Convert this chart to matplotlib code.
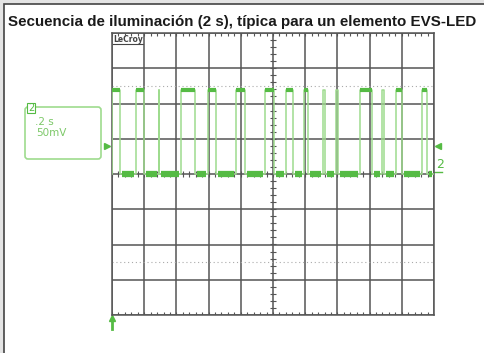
import numpy as np
import matplotlib
matplotlib.use("Agg")
import matplotlib.pyplot as plt
from matplotlib.patches import Rectangle, FancyBboxPatch

# pulse train (seconds, volts)
pulse_start = [0.000, 0.149, 0.289, 0.429, 0.596, 0.770, 0.950, 1.081,
               1.193, 1.311, 1.391, 1.540, 1.677, 1.764, 1.925]
pulse_end = [0.050, 0.199, 0.295, 0.516, 0.646, 0.826, 1.006, 1.124,
             1.217, 1.323, 1.404, 1.615, 1.689, 1.801, 1.957]
v_high = 0.119
v_low = 0.0
t_total = 2.0          # 10 div x 0.2 s
v_div = 0.05           # 50 mV/div

title = "Secuencia de iluminación (2 s), típica para un elemento EVS-LED"

green = "#55bb44"
green_lt = "#9edb8e"
gridc = "#555555"

W, H = 484, 353
fig = plt.figure(figsize=(W / 100, H / 100), dpi=100, facecolor="#e4e4e4")

# overlay in pixel coordinates
ax0 = fig.add_axes([0, 0, 1, 1])
ax0.set_xlim(0, W)
ax0.set_ylim(H, 0)
ax0.axis("off")
ax0.add_patch(Rectangle((4, 4), W, H, facecolor="white", edgecolor="#444444", lw=1.2))
ax0.text(8, 22, title, fontsize=10.9, fontweight="bold", family="Liberation Sans",
         va="center", ha="left", color="#1a1a1a")

# channel info box
ax0.add_patch(FancyBboxPatch((25, 107), 76, 52, boxstyle="round,pad=0,rounding_size=3",
                             facecolor="none", edgecolor=green_lt, lw=1.2))
ax0.text(31, 108, "2", fontsize=7, color=green, ha="center", va="center",
         bbox=dict(boxstyle="square,pad=0.05", fc="white", ec=green, lw=0.8))
ax0.text(35, 122, ".2 s", fontsize=7.5, color="#7cc868", va="center")
ax0.text(36, 133, "50mV", fontsize=7.5, color="#7cc868", va="center")

# level markers and trigger arrow
ax0.plot([107], [146], marker=">", ms=4, color=green, ls="none")
ax0.plot([438], [146], marker="<", ms=4, color=green, ls="none")
ax0.text(436, 164, "2", fontsize=9, color=green, va="center", ha="left")
ax0.plot([434, 442], [172, 172], color=green, lw=1)
ax0.plot([112, 112], [329, 319], color=green, lw=2)
ax0.plot([112], [318], marker="^", ms=5, color=green, ls="none")

# LeCroy logo
ax0.text(113, 39, "LeCroy", fontsize=5.5, fontweight="bold", color="#444444", va="center")
ax0.plot([113, 143], [43.5, 43.5], color="#444444", lw=0.8)

# scope screen
ax = fig.add_axes([112 / W, 38 / H, 322 / W, 282 / H], facecolor="none")
ax.set_xlim(0, t_total)
ax.set_ylim(-4 * v_div, 4 * v_div)
ax.set_xticks(np.arange(0, t_total + 0.001, 0.2))
ax.set_yticks(np.arange(-4 * v_div, 4 * v_div + 1e-6, v_div))
ax.grid(True, color=gridc, lw=1.1)
ax.tick_params(length=0, labelbottom=False, labelleft=False)
for s in ax.spines.values():
    s.set_color(gridc)
    s.set_lw(1.1)

# cursor dotted lines
for yv in (2.5 * v_div, -2.5 * v_div):
    ax.axhline(yv, color="#aaaaaa", ls=(0, (1, 2.5)), lw=0.8)

# minor ticks on center axes and edges
dt_tick = 0.0186
dv_tick = 0.0043
vm = np.arange(-4 * v_div, 4 * v_div, v_div / 5)
ax.hlines(vm, 1.0 - dt_tick, 1.0 + dt_tick, color=gridc, lw=0.8)
tm = np.arange(0, t_total, 0.04)
ax.vlines(tm, -dv_tick, dv_tick, color=gridc, lw=0.8)
ax.vlines(tm, -4 * v_div, -4 * v_div + dv_tick, color=gridc, lw=0.8)
ax.vlines(tm, 4 * v_div - dv_tick, 4 * v_div, color=gridc, lw=0.8)

# step trace
tt, vv = [], []
for s, e in zip(pulse_start, pulse_end):
    tt += [s, s, e, e]
    vv += [v_low, v_high, v_high, v_low]
tt.append(t_total)
vv.append(v_low)
ax.plot(tt, vv, color=green_lt, lw=1.1, zorder=4)

# thicker noisy-looking flat parts
inset = 0.012
lows = list(zip(pulse_end, pulse_start[1:] + [t_total]))
for a, b in lows:
    if b - a > 2 * inset:
        ax.plot([a + inset, b - inset], [v_low, v_low], color=green, lw=4.5,
                solid_capstyle="butt", zorder=5)
for s, e in zip(pulse_start, pulse_end):
    if e - s > 0.02:
        ax.plot([s, e], [v_high, v_high], color=green, lw=3,
                solid_capstyle="butt", zorder=5)

fig.savefig("out.png", dpi=100, facecolor=fig.get_facecolor())
